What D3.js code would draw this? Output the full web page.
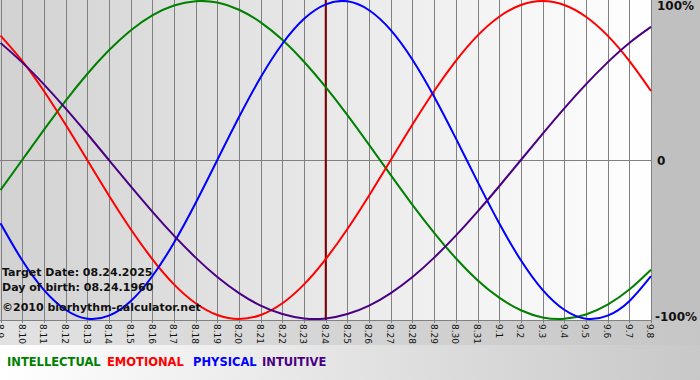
<!DOCTYPE html>
<html>
<head>
<meta charset="utf-8">
<script src="https://cdn.jsdelivr.net/npm/d3@7"></script>
<style>
    body { margin: 0; background: #ffffff; }
    svg { display: block; font-family: "DejaVu Sans", Verdana, sans-serif; }
</style>
</head>
<body>
<svg id="chart" width="700" height="380"></svg>
<script>
let dayLabels = ["8.9", "8.10", "8.11", "8.12", "8.13", "8.14", "8.15", "8.16", "8.17", "8.18",
    "8.19", "8.20", "8.21", "8.22", "8.23", "8.24", "8.25", "8.26", "8.27", "8.28",
    "8.29", "8.30", "8.31", "9.1", "9.2", "9.3", "9.4", "9.5", "9.6", "9.7", "9.8"]

let physical = [-0.398, -0.631, -0.817, -0.942, -0.998, -0.979, -0.888, -0.731, -0.520, -0.270,
    0.000, 0.270, 0.520, 0.731, 0.888, 0.979, 0.998, 0.942, 0.817, 0.631,
    0.398, 0.136, -0.136, -0.398, -0.631, -0.817, -0.942, -0.998, -0.979, -0.888, -0.731]
let emotional = [0.782, 0.623, 0.434, 0.223, 0.000, -0.223, -0.434, -0.623, -0.782, -0.901,
    -0.975, -1.000, -0.975, -0.901, -0.782, -0.623, -0.434, -0.223, 0.000, 0.223,
    0.434, 0.623, 0.782, 0.901, 0.975, 1.000, 0.975, 0.901, 0.782, 0.623, 0.434]
let intellectual = [-0.189, 0.000, 0.189, 0.372, 0.541, 0.690, 0.815, 0.910, 0.972, 0.999,
    0.990, 0.945, 0.866, 0.756, 0.618, 0.458, 0.282, 0.095, -0.095, -0.282,
    -0.458, -0.618, -0.756, -0.866, -0.945, -0.990, -0.999, -0.972, -0.910, -0.815, -0.690]
let intuitive = [0.736, 0.614, 0.476, 0.325, 0.165, 0.000, -0.165, -0.325, -0.476, -0.614,
    -0.736, -0.837, -0.916, -0.969, -0.997, -0.997, -0.969, -0.916, -0.837, -0.736,
    -0.614, -0.476, -0.325, -0.165, 0.000, 0.165, 0.325, 0.476, 0.614, 0.736, 0.837]

let targetIndex = 15
let yTicks = [{v: 1, text: "100%"}, {v: 0, text: "0"}, {v: -1, text: "-100%"}]
let series = [
    {name: "INTELLECTUAL", values: intellectual, color: "#008000", lx: 7},
    {name: "EMOTIONAL", values: emotional, color: "#ff0000", lx: 107},
    {name: "PHYSICAL", values: physical, color: "#0000ff", lx: 193},
    {name: "INTUITIVE", values: intuitive, color: "#4b0082", lx: 262},
]
let notes = [
    {text: "Target Date: 08.24.2025", y: 276},
    {text: "Day of birth: 08.24.1960", y: 291},
    {text: "\u00a92010 biorhythm-calculator.net", y: 311},
]

let plot = {x0: 0, x1: 651, y0: 0, y1: 320}
let x = d3.scaleLinear().domain([0, dayLabels.length - 1]).range([0.5, 651])
let y = d3.scaleLinear().domain([-1, 1]).range([319, 1])

let svg = d3.select("svg#chart")
let defs = svg.append("defs")
let grad = defs.append("linearGradient").attr("id", "plotBg")
grad.append("stop").attr("offset", "0%").attr("stop-color", "#d2d2d2")
grad.append("stop").attr("offset", "100%").attr("stop-color", "#ffffff")
let bottomGrad = defs.append("linearGradient").attr("id", "bottomBg")
bottomGrad.append("stop").attr("offset", "0%").attr("stop-color", "#e2e2e2")
bottomGrad.append("stop").attr("offset", "100%").attr("stop-color", "#c6c6c6")
let legendGrad = defs.append("linearGradient").attr("id", "legendBg")
legendGrad.append("stop").attr("offset", "0%").attr("stop-color", "#ffffff")
legendGrad.append("stop").attr("offset", "100%").attr("stop-color", "#c8c8c8")

// backgrounds
svg.append("rect").attr("x", 0).attr("y", 0).attr("width", 700).attr("height", 345)
    .attr("fill", "#c0c0c0")
svg.append("rect").attr("x", 0).attr("y", plot.y1).attr("width", 700).attr("height", 25)
    .attr("fill", "url(#bottomBg)")
svg.append("rect").attr("x", 0).attr("y", 345).attr("width", 700).attr("height", 35)
    .attr("fill", "url(#legendBg)")
svg.append("rect")
    .attr("x", plot.x0).attr("y", plot.y0)
    .attr("width", plot.x1 - plot.x0).attr("height", plot.y1 - plot.y0)
    .attr("fill", "url(#plotBg)")

// grid
svg.append("g")
    .selectAll("line")
    .data(dayLabels)
    .join("line")
        .attr("x1", (d, i) => Math.round(x(i)) + 0.5)
        .attr("x2", (d, i) => Math.round(x(i)) + 0.5)
        .attr("y1", plot.y0)
        .attr("y2", plot.y1 + 3)
        .attr("stroke", "#808080")
        .attr("stroke-width", 1)
svg.append("line")
    .attr("x1", plot.x0).attr("x2", plot.x1)
    .attr("y1", Math.round(y(0)) + 0.5).attr("y2", Math.round(y(0)) + 0.5)
    .attr("stroke", "#808080")
svg.append("line")
    .attr("x1", plot.x0).attr("x2", plot.x1 + 1)
    .attr("y1", plot.y1 + 0.5).attr("y2", plot.y1 + 0.5)
    .attr("stroke", "#808080")

// x labels
svg.append("g")
    .selectAll("text")
    .data(dayLabels)
    .join("text")
        .attr("transform", (d, i) => `translate(${x(i) - 0.5},324) rotate(90)`)
        .attr("dy", "0.35em")
        .attr("font-size", 9)
        .attr("fill", "#111")
        .text(d => d)

// y labels
svg.append("g")
    .selectAll("text")
    .data(yTicks)
    .join("text")
        .attr("x", d => d.v < 0 ? 655 : 657)
        .attr("y", d => y(d.v))
        .attr("dy", d => d.v > 0 ? "0.75em" : d.v < 0 ? "0.2em" : "0.45em")
        .attr("font-size", 12)
        .attr("font-weight", "bold")
        .attr("fill", "#111")
        .text(d => d.text)

// target date marker
svg.append("line")
    .attr("x1", x(targetIndex)).attr("x2", x(targetIndex))
    .attr("y1", plot.y0).attr("y2", plot.y1)
    .attr("stroke", "#800000")
    .attr("stroke-width", 2)

// curves
let line = d3.line()
    .x((d, i) => x(i))
    .y(d => y(d))
    .curve(d3.curveNatural)
svg.append("g")
    .selectAll("path")
    .data(series)
    .join("path")
        .attr("fill", "none")
        .attr("stroke", d => d.color)
        .attr("stroke-width", 2)
        .attr("d", d => line(d.values))

// notes
svg.append("g")
    .selectAll("text")
    .data(notes)
    .join("text")
        .attr("x", 2)
        .attr("y", d => d.y)
        .attr("font-size", 11)
        .attr("font-weight", "bold")
        .attr("fill", "#111")
        .text(d => d.text)

// legend
svg.append("g")
    .selectAll("text")
    .data(series)
    .join("text")
        .attr("x", d => d.lx)
        .attr("y", 366)
        .attr("font-size", 11.5)
        .attr("font-weight", "bold")
        .attr("fill", d => d.color)
        .text(d => d.name)
</script>
</body>
</html>
